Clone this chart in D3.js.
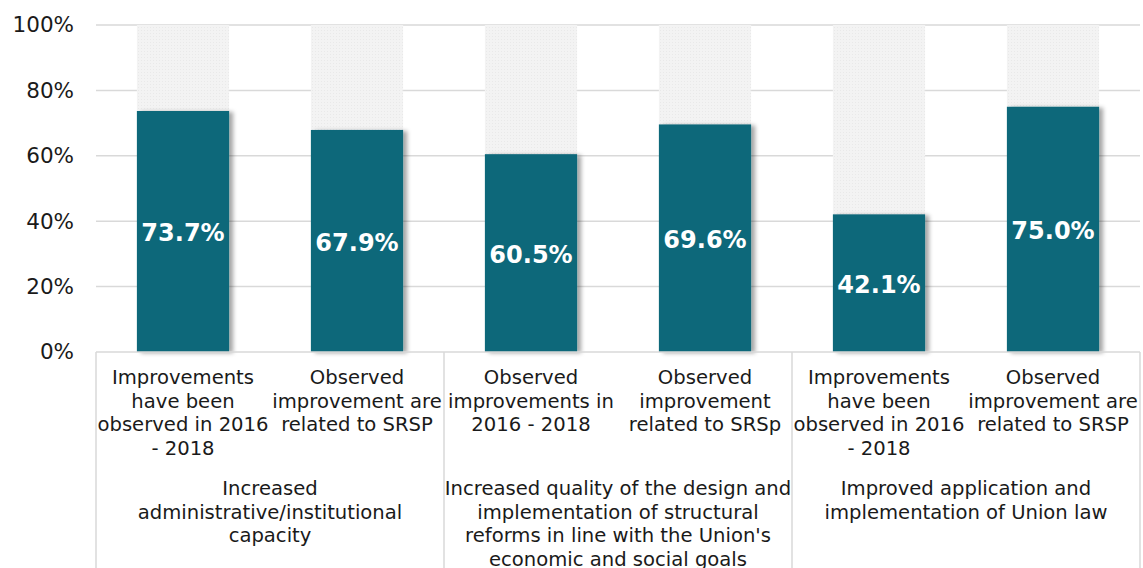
<!DOCTYPE html>
<html>
<head>
<meta charset="utf-8">
<script src="https://cdn.jsdelivr.net/npm/d3@7"></script>
<style>
  html, body { margin: 0; padding: 0; background: #fff; }
  svg { display: block; font-family: Verdana, 'DejaVu Sans', sans-serif; }
</style>
</head>
<body>
<svg width="1143" height="568"></svg>
<script>

// data
const barLabels = [
	[ 'Improvements', 'have been', 'observed in 2016', '- 2018' ],
	[ 'Observed', 'improvement are', 'related to SRSP' ],
	[ 'Observed', 'improvements in', '2016 - 2018' ],
	[ 'Observed', 'improvement', 'related to SRSp' ],
	[ 'Improvements', 'have been', 'observed in 2016', '- 2018' ],
	[ 'Observed', 'improvement are', 'related to SRSP' ]
]
const values = [ 73.7, 67.9, 60.5, 69.6, 42.1, 75.0 ]
const groupLabels = [
	[ 'Increased', 'administrative/institutional', 'capacity' ],
	[ 'Increased quality of the design and', 'implementation of structural', 'reforms in line with the Union\'s', 'economic and social goals' ],
	[ 'Improved application and', 'implementation of Union law' ]
]
const yTicks = [ 0, 20, 40, 60, 80, 100 ]

const svg = d3.select( 'svg' ),
	width = +svg.attr( 'width' ),
	height = +svg.attr( 'height' ),
	margin = { top: 25, right: 3, left: 96 },
	axisY = 352,
	lineH = 23.7,
	labelSize = 19.6,
	gridColor = '#d9d9d9',
	barColor = '#0d687a'

const idx = values.map( ( d, i ) => i )

const x = d3.scaleBand()
	.domain( idx )
	.range( [ margin.left, width - margin.right ] )
	.paddingInner( 0.47 )
	.paddingOuter( 0.235 )

const y = d3.scaleLinear()
	.domain( [ 0, 100 ] )
	.range( [ axisY, margin.top ] )

const defs = svg.append( 'defs' )
defs.append( 'filter' )
	.attr( 'id', 'shadow' )
	.attr( 'x', '-10%' ).attr( 'y', '-10%' )
	.attr( 'width', '130%' ).attr( 'height', '120%' )
	.append( 'feDropShadow' )
	.attr( 'dx', 4 ).attr( 'dy', 1 )
	.attr( 'stdDeviation', 2 )
	.attr( 'flood-color', '#000' )
	.attr( 'flood-opacity', 0.35 )

const pat = defs.append( 'pattern' )
	.attr( 'id', 'dots' )
	.attr( 'width', 3 ).attr( 'height', 3 )
	.attr( 'patternUnits', 'userSpaceOnUse' )
pat.append( 'rect' ).attr( 'width', 3 ).attr( 'height', 3 ).attr( 'fill', '#f3f3f3' )
pat.append( 'rect' ).attr( 'width', 1 ).attr( 'height', 1 ).attr( 'fill', '#e9e9e9' )

// gridlines
svg.append( 'g' )
	.selectAll( 'line' )
	.data( yTicks.filter( d => d > 0 ) )
	.join( 'line' )
	.attr( 'x1', margin.left )
	.attr( 'x2', width - margin.right )
	.attr( 'y1', d => y( d ) )
	.attr( 'y2', d => y( d ) )
	.attr( 'stroke', gridColor )
	.attr( 'stroke-width', 1.5 )

// y axis labels
const yAxis = svg.append( 'g' )
	.attr( 'transform', `translate(${ margin.left - 22 },0)` )
	.call( d3.axisLeft( y ).tickValues( yTicks ).tickFormat( d => d + '%' ).tickSize( 0 ).tickPadding( 0 ) )
yAxis.select( '.domain' ).remove()
yAxis.selectAll( 'text' )
	.attr( 'font-size', 21.5 )
	.attr( 'font-family', 'Verdana, DejaVu Sans, sans-serif' )
	.attr( 'fill', '#1a1a1a' )

// background bars (remaining to 100%)
svg.append( 'g' )
	.selectAll( 'rect' )
	.data( idx )
	.join( 'rect' )
	.attr( 'x', i => x( i ) )
	.attr( 'width', x.bandwidth() )
	.attr( 'y', y( 100 ) )
	.attr( 'height', i => y( values[ i ] ) - y( 100 ) )
	.attr( 'fill', 'url(#dots)' )

// bars
svg.append( 'g' )
	.selectAll( 'rect' )
	.data( idx )
	.join( 'rect' )
	.attr( 'x', i => x( i ) )
	.attr( 'width', x.bandwidth() )
	.attr( 'y', i => y( values[ i ] ) )
	.attr( 'height', i => axisY - y( values[ i ] ) )
	.attr( 'fill', barColor )
	.attr( 'filter', 'url(#shadow)' )

// value labels
svg.append( 'g' )
	.selectAll( 'text' )
	.data( idx )
	.join( 'text' )
	.attr( 'x', i => x( i ) + x.bandwidth() / 2 )
	.attr( 'y', i => ( y( values[ i ] ) + axisY ) / 2 + 1 )
	.attr( 'dy', '0.36em' )
	.attr( 'text-anchor', 'middle' )
	.attr( 'font-size', 24 )
	.attr( 'font-weight', 'bold' )
	.attr( 'fill', '#fff' )
	.text( i => values[ i ].toFixed( 1 ) + '%' )

// category axis lines
svg.append( 'line' )
	.attr( 'x1', margin.left ).attr( 'x2', width - margin.right )
	.attr( 'y1', axisY ).attr( 'y2', axisY )
	.attr( 'stroke', gridColor ).attr( 'stroke-width', 1.5 )

const step = x.step()
const groupEdges = d3.range( groupLabels.length + 1 ).map( g => margin.left + g * 2 * step )

svg.append( 'g' )
	.selectAll( 'line' )
	.data( groupEdges )
	.join( 'line' )
	.attr( 'x1', d => d ).attr( 'x2', d => d )
	.attr( 'y1', axisY ).attr( 'y2', height )
	.attr( 'stroke', gridColor ).attr( 'stroke-width', 1.5 )

// bar category labels
svg.append( 'g' )
	.selectAll( 'text' )
	.data( idx )
	.join( 'text' )
	.attr( 'text-anchor', 'middle' )
	.attr( 'font-size', labelSize )
	.attr( 'fill', '#1a1a1a' )
	.each( function ( i ) {
		d3.select( this ).selectAll( 'tspan' )
			.data( barLabels[ i ] )
			.join( 'tspan' )
			.attr( 'x', x( i ) + x.bandwidth() / 2 )
			.attr( 'y', ( d, k ) => 384 + k * lineH )
			.text( d => d )
	} )

// group labels
svg.append( 'g' )
	.selectAll( 'text' )
	.data( groupLabels )
	.join( 'text' )
	.attr( 'text-anchor', 'middle' )
	.attr( 'font-size', labelSize )
	.attr( 'fill', '#1a1a1a' )
	.each( function ( lines, g ) {
		d3.select( this ).selectAll( 'tspan' )
			.data( lines )
			.join( 'tspan' )
			.attr( 'x', ( groupEdges[ g ] + groupEdges[ g + 1 ] ) / 2 )
			.attr( 'y', ( d, k ) => 495 + k * lineH )
			.text( d => d )
	} )

</script>
</body>
</html>
